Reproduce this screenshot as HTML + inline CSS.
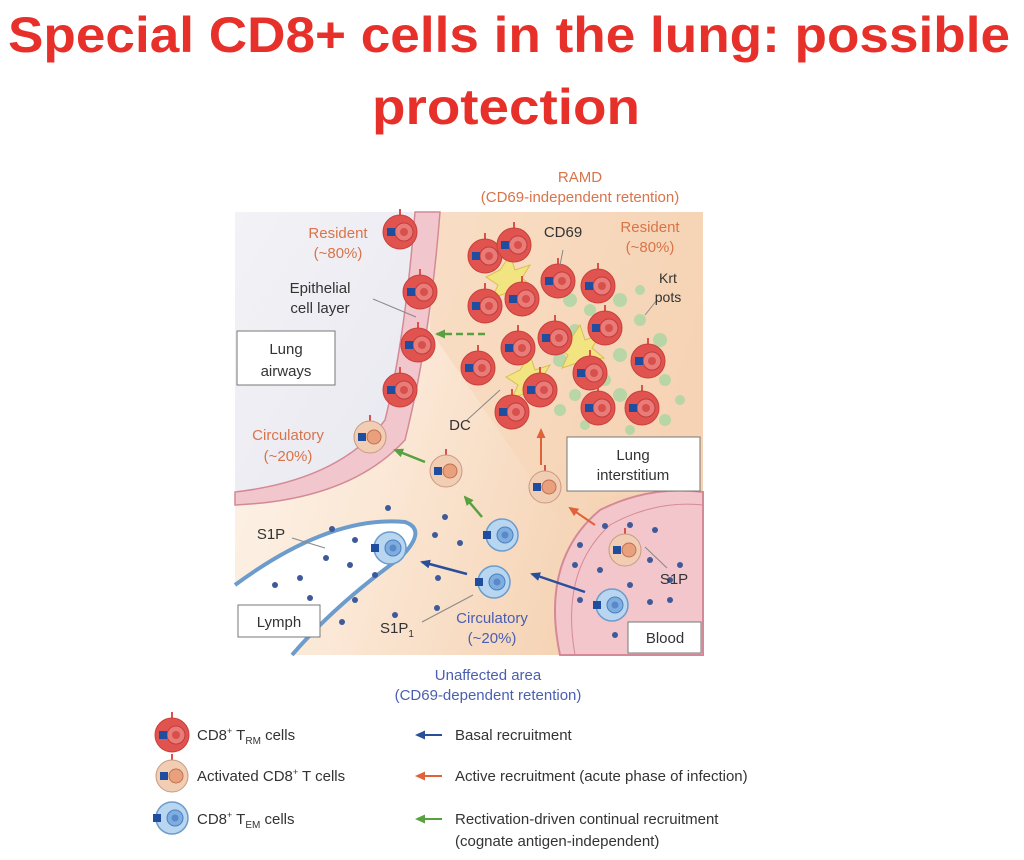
<!DOCTYPE html>
<html><head><meta charset="utf-8"><style>
html,body{margin:0;padding:0;background:#fff;width:1024px;height:860px;overflow:hidden}
svg{display:block}
text{font-family:"Liberation Sans",sans-serif}
</style></head><body>
<svg width="1024" height="860" viewBox="0 0 1024 860" xmlns="http://www.w3.org/2000/svg">
<defs>
<linearGradient id="bg" x1="0" y1="0" x2="1" y2="0.3">
<stop offset="0" stop-color="#fdf6ee"/><stop offset="0.45" stop-color="#fbe8d6"/><stop offset="1" stop-color="#f4cfae"/>
</linearGradient>
<linearGradient id="air" x1="0" y1="0" x2="1" y2="1">
<stop offset="0" stop-color="#f3f2f6"/><stop offset="1" stop-color="#e8e8f0"/>
</linearGradient>
<g id="red"><line x1="0" y1="-17" x2="0" y2="-23" stroke="#d9534a" stroke-width="2"/><circle r="17" fill="#e0534e" stroke="#c8403c"/><circle cx="4" r="9" fill="#e97b78" stroke="#c03c3c"/><circle cx="4" r="4" fill="#d8504c"/><rect x="-13" y="-4" width="8" height="8" fill="#1f4ea0"/></g>
<g id="tan"><line x1="0" y1="-16" x2="0" y2="-22" stroke="#d9534a" stroke-width="2"/><circle r="16" fill="#f1cdb4" stroke="#c89a80"/><circle cx="4" r="7" fill="#e9a07c" stroke="#c07050"/><rect x="-12" y="-4" width="8" height="8" fill="#1f4ea0"/></g>
<g id="blue"><circle r="16" fill="#b8d6f0" stroke="#6c9ccc" stroke-width="1.5"/><circle cx="3" r="8" fill="#7eaee0" stroke="#4d7fbf"/><circle cx="3" r="3.5" fill="#5a88c8"/><rect x="-19" y="-4" width="8" height="8" fill="#1f4ea0"/></g>
<marker id="ab" markerUnits="userSpaceOnUse" markerWidth="10" markerHeight="9" refX="8" refY="4.5" orient="auto"><path d="M0,0 L10,4.5 L0,9 Z" fill="#2a4f9a"/></marker>
<marker id="ao" markerUnits="userSpaceOnUse" markerWidth="10" markerHeight="9" refX="8" refY="4.5" orient="auto"><path d="M0,0 L10,4.5 L0,9 Z" fill="#e0623a"/></marker>
<marker id="ag" markerUnits="userSpaceOnUse" markerWidth="10" markerHeight="9" refX="8" refY="4.5" orient="auto"><path d="M0,0 L10,4.5 L0,9 Z" fill="#58a040"/></marker>
</defs>

<text x="8" y="52" textLength="1002" lengthAdjust="spacingAndGlyphs" font-size="50" font-weight="bold" fill="#e8302a">Special CD8+ cells in the lung: possible</text>
<text x="372" y="124" textLength="268" lengthAdjust="spacingAndGlyphs" font-size="50" font-weight="bold" fill="#e8302a">protection</text>

<text x="580" y="182" text-anchor="middle" font-size="15" fill="#d9744a">RAMD</text>
<text x="580" y="202" text-anchor="middle" font-size="15" fill="#d9744a">(CD69-independent retention)</text>

<rect x="235" y="212" width="468" height="443" fill="url(#bg)"/>
<path d="M435,212 L703,212 L703,520 Q620,470 560,520 L430,330 Z" fill="#f6d6b8" opacity="0.6"/>
<path d="M235,212 L415,212 Q405,340 385,420 Q340,480 235,492 Z" fill="url(#air)"/>
<path d="M415,212 Q405,340 385,420 Q340,480 235,492 L235,505 Q350,500 405,440 Q430,340 440,212 Z" fill="#f1c6cc" stroke="#d48a96" stroke-width="1.5"/>
<g fill="#9fd6a0" opacity="0.7">
<circle cx="570" cy="300" r="7"/><circle cx="590" cy="310" r="6"/><circle cx="620" cy="300" r="7"/><circle cx="640" cy="320" r="6"/><circle cx="660" cy="340" r="7"/><circle cx="575" cy="330" r="6"/><circle cx="560" cy="360" r="7"/><circle cx="620" cy="355" r="7"/><circle cx="665" cy="380" r="6"/><circle cx="575" cy="395" r="6"/><circle cx="620" cy="395" r="7"/><circle cx="665" cy="420" r="6"/><circle cx="560" cy="410" r="6"/><circle cx="680" cy="400" r="5"/><circle cx="640" cy="290" r="5"/><circle cx="605" cy="380" r="6"/><circle cx="630" cy="430" r="5"/><circle cx="585" cy="425" r="5"/>
</g>
<g fill="#f2e480" stroke="#d6c050">
<path d="M500,270 l10,-15 l5,15 l15,-5 l-8,13 l12,10 l-16,2 l-3,15 l-8,-12 l-15,5 l6,-13 l-12,-8 Z"/>
<path d="M520,370 l10,-15 l5,15 l15,-5 l-8,13 l12,10 l-16,2 l-3,15 l-8,-12 l-15,5 l6,-13 l-12,-8 Z"/>
<path d="M570,340 l10,-15 l5,15 l15,-5 l-8,13 l12,10 l-16,2 l-3,15 l-8,-12 l-15,5 l6,-13 l-12,-8 Z"/>
</g>
<!-- lymph -->
<path d="M235,585 Q330,515 405,522 Q428,530 400,558 Q335,605 292,655 L235,655 Z" fill="#fff"/>
<path d="M235,585 Q330,515 405,522 Q428,530 400,558 Q335,605 292,655" fill="none" stroke="#6c9ccc" stroke-width="4"/>
<!-- blood -->
<path d="M560,655 Q540,560 600,510 Q650,485 703,492 L703,655 Z" fill="#f3c6cc" stroke="#d48a96" stroke-width="2"/>
<path d="M575,655 Q560,570 610,525 Q655,500 703,505" fill="none" stroke="#d48a96" stroke-width="1"/>
<g fill="#3e5a9a">
<circle cx="388" cy="508" r="3"/><circle cx="445" cy="517" r="3"/><circle cx="435" cy="535" r="3"/><circle cx="460" cy="543" r="3"/><circle cx="332" cy="529" r="3"/><circle cx="355" cy="540" r="3"/><circle cx="326" cy="558" r="3"/><circle cx="350" cy="565" r="3"/><circle cx="375" cy="575" r="3"/><circle cx="300" cy="578" r="3"/><circle cx="275" cy="585" r="3"/><circle cx="310" cy="598" r="3"/><circle cx="355" cy="600" r="3"/><circle cx="342" cy="622" r="3"/><circle cx="395" cy="615" r="3"/><circle cx="438" cy="578" r="3"/><circle cx="437" cy="608" r="3"/>
<circle cx="605" cy="526" r="3"/><circle cx="630" cy="525" r="3"/><circle cx="655" cy="530" r="3"/><circle cx="580" cy="545" r="3"/><circle cx="575" cy="565" r="3"/><circle cx="600" cy="570" r="3"/><circle cx="650" cy="560" r="3"/><circle cx="630" cy="585" r="3"/><circle cx="670" cy="580" r="3"/><circle cx="670" cy="600" r="3"/><circle cx="650" cy="602" r="3"/><circle cx="680" cy="565" r="3"/><circle cx="615" cy="635" r="3"/><circle cx="640" cy="640" r="3"/><circle cx="580" cy="600" r="3"/>
</g>
<use href="#red" x="400" y="232"/><use href="#red" x="420" y="292"/><use href="#red" x="418" y="345"/><use href="#red" x="400" y="390"/>
<use href="#red" x="485" y="256"/><use href="#red" x="514" y="245"/><use href="#red" x="558" y="281"/><use href="#red" x="598" y="286"/><use href="#red" x="485" y="306"/><use href="#red" x="522" y="299"/><use href="#red" x="518" y="348"/><use href="#red" x="555" y="338"/><use href="#red" x="605" y="328"/><use href="#red" x="478" y="368"/><use href="#red" x="590" y="373"/><use href="#red" x="648" y="361"/><use href="#red" x="540" y="390"/><use href="#red" x="512" y="412"/><use href="#red" x="598" y="408"/><use href="#red" x="642" y="408"/>
<use href="#tan" x="370" y="437"/><use href="#tan" x="446" y="471"/><use href="#tan" x="545" y="487"/><use href="#tan" x="625" y="550"/>
<use href="#blue" x="502" y="535"/><use href="#blue" x="390" y="548"/><use href="#blue" x="494" y="582"/><use href="#blue" x="612" y="605"/>
<line x1="485" y1="334" x2="437" y2="334" stroke="#58a040" stroke-width="2.5" stroke-dasharray="7,4" marker-end="url(#ag)"/>
<line x1="425" y1="462" x2="395" y2="450" stroke="#58a040" stroke-width="2.5" marker-end="url(#ag)"/>
<line x1="482" y1="517" x2="465" y2="497" stroke="#58a040" stroke-width="2.5" marker-end="url(#ag)"/>
<line x1="541" y1="465" x2="541" y2="430" stroke="#e0623a" stroke-width="2" marker-end="url(#ao)"/>
<line x1="595" y1="525" x2="570" y2="508" stroke="#e0623a" stroke-width="2" marker-end="url(#ao)"/>
<line x1="467" y1="574" x2="422" y2="562" stroke="#2a4f9a" stroke-width="2.5" marker-end="url(#ab)"/>
<line x1="585" y1="592" x2="532" y2="574" stroke="#2a4f9a" stroke-width="2.5" marker-end="url(#ab)"/>
<g stroke="#888" stroke-width="1" fill="none">
<line x1="373" y1="299" x2="416" y2="317"/><line x1="563" y1="250" x2="560" y2="265"/><line x1="657" y1="300" x2="645" y2="315"/>
<line x1="467" y1="420" x2="500" y2="390"/><line x1="292" y1="538" x2="325" y2="548"/><line x1="645" y1="547" x2="667" y2="568"/><line x1="422" y1="622" x2="473" y2="595"/>
</g>
<g font-size="15" text-anchor="middle">
<text x="338" y="238" fill="#d9744a">Resident</text><text x="338" y="258" fill="#d9744a">(~80%)</text>
<text x="650" y="232" fill="#d9744a">Resident</text><text x="650" y="252" fill="#d9744a">(~80%)</text>
<text x="563" y="237" fill="#333">CD69</text>
<text x="668" y="283" fill="#333" font-size="14">Krt</text><text x="668" y="302" fill="#333" font-size="14">pots</text>
<text x="320" y="293" fill="#333">Epithelial</text><text x="320" y="313" fill="#333">cell layer</text>
<text x="288" y="440" fill="#d9744a">Circulatory</text><text x="288" y="461" fill="#d9744a">(~20%)</text>
<text x="460" y="430" fill="#333">DC</text>
<text x="271" y="539" fill="#333">S1P</text>
<text x="674" y="584" fill="#333">S1P</text>
<text x="397" y="633" fill="#333">S1P<tspan font-size="10" dy="4">1</tspan></text>
<text x="492" y="623" fill="#4a5fb0">Circulatory</text><text x="492" y="643" fill="#4a5fb0">(~20%)</text>
<text x="488" y="680" fill="#4a5fb0">Unaffected area</text><text x="488" y="700" fill="#4a5fb0">(CD69-dependent retention)</text>
</g>
<g fill="#fff" stroke="#777" stroke-width="1">
<rect x="237" y="331" width="98" height="54"/><rect x="567" y="437" width="133" height="54"/><rect x="238" y="605" width="82" height="32"/><rect x="628" y="622" width="73" height="31"/>
</g>
<g font-size="15" text-anchor="middle" fill="#333">
<text x="286" y="354">Lung</text><text x="286" y="376">airways</text>
<text x="633" y="460">Lung</text><text x="633" y="480">interstitium</text>
<text x="279" y="627">Lymph</text><text x="665" y="643">Blood</text>
</g>
<use href="#red" x="172" y="735"/><use href="#tan" x="172" y="776"/><use href="#blue" x="172" y="818"/>
<g font-size="15" fill="#333">
<text x="197" y="740">CD8<tspan font-size="9" dy="-6">+</tspan><tspan dy="6"> T</tspan><tspan font-size="10" dy="4">RM</tspan><tspan dy="-4"> cells</tspan></text>
<text x="197" y="781">Activated CD8<tspan font-size="9" dy="-6">+</tspan><tspan dy="6"> T cells</tspan></text>
<text x="197" y="824">CD8<tspan font-size="9" dy="-6">+</tspan><tspan dy="6"> T</tspan><tspan font-size="10" dy="4">EM</tspan><tspan dy="-4"> cells</tspan></text>
<text x="455" y="740">Basal recruitment</text>
<text x="455" y="781">Active recruitment (acute phase of infection)</text>
<text x="455" y="824">Rectivation-driven continual recruitment</text>
<text x="455" y="846">(cognate antigen-independent)</text>
</g>
<line x1="442" y1="735" x2="417" y2="735" stroke="#2a4f9a" stroke-width="2" marker-end="url(#ab)"/>
<line x1="442" y1="776" x2="417" y2="776" stroke="#e0623a" stroke-width="2" marker-end="url(#ao)"/>
<line x1="442" y1="819" x2="417" y2="819" stroke="#58a040" stroke-width="2" marker-end="url(#ag)"/>
</svg>
</body></html>
